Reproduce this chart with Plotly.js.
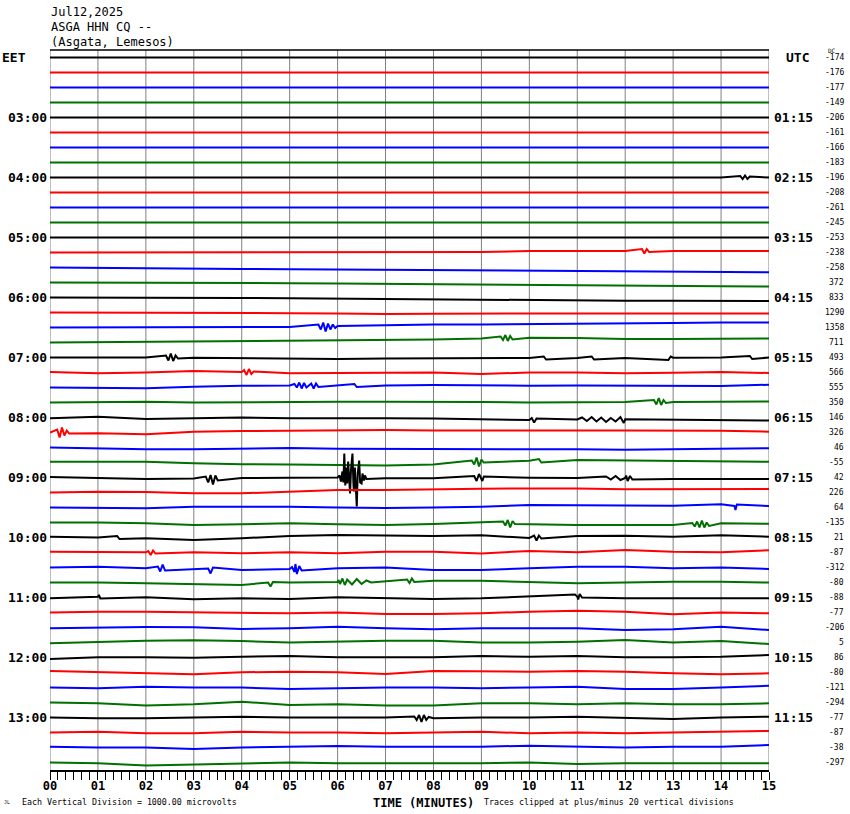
<!DOCTYPE html>
<html>
<head>
<meta charset="utf-8">
<script src="https://cdn.plot.ly/plotly-3.0.1.min.js"></script>
<style>html,body{margin:0;padding:0;background:#fff;}#chart{width:850px;height:814px;}</style>
</head>
<body>
<div id="chart"></div>
<script>
// ---------- DATA ----------
const headerLines = ['Jul12,2025', 'ASGA HHN CQ --', '(Asgata, Lemesos)'];
const minuteTicks = [0,1,2,3,4,5,6,7,8,9,10,11,12,13,14,15];
const minuteLabels = ['00','01','02','03','04','05','06','07','08','09','10','11','12','13','14','15'];
const leftLabels = ['EET','03:00','04:00','05:00','06:00','07:00','08:00','09:00','10:00','11:00','12:00','13:00'];
const rightLabels = ['UTC','01:15','02:15','03:15','04:15','05:15','06:15','07:15','08:15','09:15','10:15','11:15'];
const dcValues = [-174,-176,-177,-149,-206,-161,-166,-183,-196,-208,-261,-245,-253,-238,-258,372,
  833,1290,1358,711,493,566,555,350,146,326,46,-55,42,226,64,-135,
  21,-87,-312,-80,-88,-77,-206,5,86,-80,-121,-294,-77,-87,-38,-297];
const traceColors = ['#000000','#ff0000','#0000ff','#007000'];

// baseline offset of each trace at each whole minute (amplitude unit: 1/15 of trace spacing, + is up)
const Z = [0,0,0,0,0,0,0,0,0,0,0,0,0,0,0,0];
const baseline = [
  Z,Z,Z,Z,Z,Z,Z,Z,Z,Z,Z,Z,Z,
  [0,0,0,0,0,0,0,0,0,0.5,1.5,1.5,1.5,1.5,1.5,1.5],
  [0,-0.5,-1,-1.2,-1.5,-1.7,-2,-2.5,-2.8,-3,-3.2,-3.5,-3.8,-4.2,-4.5,-4.8],
  [0,0,0,-0.2,-0.3,-0.7,-1,-1.4,-1.8,-2.3,-2.8,-3.2,-3.5,-3.6,-3.8,-4],
  [0,0,0,-0.3,-0.5,-0.8,-1.2,-1.8,-2.2,-2.5,-2.8,-3,-3.2,-3.3,-3.4,-3.5],
  [0,0,0,0,-0.3,-0.7,-1,-1.5,-1.2,-1,-1,-1,-1,-1,-1,-1],
  [0,0,0,0,0.3,0.5,1.5,2.5,3,3,3.2,3.5,4,4.5,5,5],
  [0,0.4,0.8,1.2,1.5,1.8,2,2.5,3,4,4.8,4.5,3.5,3.5,3.5,4],
  [0,0,0,-0.2,-0.5,-1,-1.5,-1,-0.8,-0.6,-0.5,-0.5,-0.5,-0.2,0,0],
  [0.5,-0.8,0,1.5,0.5,-0.8,-0.5,-0.8,0,-1.5,0,0,-0.8,-0.3,0.5,-0.5],
  [0,-0.5,-0.8,0.8,1.8,2,2,2,2.5,2,1.8,2,1.8,1.8,1.5,2.8],
  [0,0.5,0.8,0,0.5,0.8,0.8,0.8,0.8,0.5,0,0.3,0.5,0.6,0.8,1],
  [-0.8,0.8,-1.5,-1,0,-0.8,-0.5,-0.8,-1,-2,-2.5,-2,-1.8,-2,-2.5,-3],
  [0,-0.8,-1.8,0.8,1.5,1.8,2,2.5,2,1.8,2,2,2,2.2,1.8,0.8],
  [0,-0.8,-1.8,-1.8,-0.8,-0.5,-1.2,-1.2,-1.2,-1.3,-1.5,-1.8,-2.2,-1.8,-1.5,-0.8],
  [0.8,0.8,0.8,-0.8,-1.8,-2,-2.5,-3,-2,1.5,1.8,2.5,2.2,1.5,1.5,0.8],
  [0.5,-0.5,-1.5,-1,-0.5,-0.3,0,-0.8,-0.8,-0.5,-0.2,-0.5,-0.5,-1.5,-1.5,-1.5],
  [0,0.8,0.5,-0.8,-0.8,1,2.5,2.5,3.5,3.8,4,4,3.2,3.5,3.2,3.5],
  [0,-0.3,-0.8,0.8,0.8,0.8,0,-0.5,0,0.8,2.5,2.5,1.8,1.8,3.2,1.5],
  [0,0,-0.8,-2.5,-1.8,-0.8,-1.8,-2.5,-1.5,0,-1.8,-2.5,-2.5,-2.5,-0.8,-1.2],
  [0.8,0,-0.8,-2.5,-0.8,1.5,2.5,1.8,1.5,2.2,-0.5,1.5,1.8,0.8,2.2,0.8],
  [0.8,0.2,0.2,0.2,-0.8,0.2,-0.8,0.8,0.8,-1,1.5,0.2,2.5,0.8,0.2,2.2],
  [0,0.8,-0.8,-1.8,-2.5,-1.5,-0.8,0,-2.5,-2.5,-0.8,0.8,0.8,-0.8,0,-1.5],
  [0,0,-0.8,-1.5,-2.5,0,0.5,1.5,1.8,1.8,0.8,-0.8,0,0.8,0.8,0],
  [-0.8,0.8,0.2,-1.8,-0.8,-1.5,0.2,-0.8,-1.5,-0.8,0.8,1,-0.8,-0.8,-0.2,-0.8],
  [0,0.8,0.8,0.2,0.2,-0.8,0,-1.5,-1.5,-0.8,0.8,1.8,0.8,-1.8,0,-0.8],
  [-0.8,0.2,0.5,0.2,-1.5,-0.8,0.8,-0.8,-1.8,-0.8,-0.8,-0.8,-2.5,-1.8,0.8,-2.5],
  [-0.8,0.8,1.8,2.2,1.5,0,0.8,1.8,1.8,0,0,0.8,2.5,0,1.5,-1.5],
  [-1.5,0.2,0.2,-0.2,0.8,1.5,0.2,0.2,0.2,1.5,0.8,1.5,0.2,0.2,0.8,2.5],
  [1.5,0.2,-0.8,-1.8,0.2,0.8,0.2,-1.5,1.5,0.8,0.8,1.5,0.8,-0.8,-1.8,-0.8],
  [0,-0.8,0.8,0,0,-1.5,-0.8,0,0,-0.8,0,0.8,-1.5,-1.5,0,1.8],
  [0,-0.8,-3,-1.8,0.8,-2.5,-1.8,-3,-3,-0.8,-0.8,-1.8,-0.8,-1.8,-1.8,-0.8],
  [0,-0.8,-0.8,0,0.8,0,0,0,-0.8,0,0,0.8,0,-1.5,0,0.8],
  [0,0.8,-0.8,-0.8,0.8,0,0,-0.8,0,0.8,-0.8,0,-0.8,0,0.8,1.5],
  [0.8,0,0,-1.5,0,0.8,1.5,0.8,0.8,0.8,1.8,0.8,0,0.8,0.8,2.5],
  [0,-0.8,-3,-1.8,-0.8,0,-0.8,-0.8,-0.8,-0.8,0,-1.5,-0.8,-0.8,-0.8,-0.8]
];

// seismic events: trace index, times (minutes), amplitudes (same unit, relative to trace centre)
const evTrace = [8,13,18,19,20,20,20,20,20,21,22,22,23,24,24,25,27,27,28,28,28,28,30,31,31,32,32,33,34,34,34,35,35,35,36,36,44];
const evTimes = [
  [14.40,14.45,14.50,14.55,14.60],
  [12.35,12.40,12.45,12.50],
  [5.60,5.65,5.70,5.75,5.80,5.85,5.90,5.95],
  [9.40,9.45,9.50,9.55,9.60,9.65],
  [2.42,2.47,2.52,2.57,2.62,2.67],
  [10.30,10.35],
  [11.30,11.35],
  [12.90,12.95],
  [14.60,14.65],
  [4.05,4.10,4.15,4.20,4.25],
  [5.10,5.15,5.20,5.25,5.30,5.35,5.45,5.50,5.55,5.60],
  [6.35,6.40],
  [12.60,12.65,12.70,12.75,12.80,12.85],
  [10.05,10.10,10.15],
  [11.10,11.20,11.30,11.40,11.50,11.60,11.70,11.80,11.90,11.97],
  [0.15,0.20,0.25,0.30,0.35,0.40],
  [8.80,8.85,8.90,8.95,9.00,9.05],
  [10.20,10.25],
  [3.25,3.30,3.35,3.40,3.45,3.50],
  [6.04,6.07,6.10,6.12,6.14,6.16,6.18,6.20,6.22,6.24,6.26,6.28,6.31,6.33,6.34,6.36,6.38,6.40,6.42,6.45,6.47,6.50,6.52,6.55,6.57,6.60],
  [8.85,8.90,8.95,9.02,9.05],
  [11.60,11.70,11.80,11.90,12.02,12.05,12.10,12.15],
  [14.28,14.30,14.33],
  [9.45,9.50,9.55,9.60,9.65,9.70],
  [13.40,13.45,13.50,13.55,13.60,13.65,13.70,13.75],
  [10.10,10.15,10.20,10.25],
  [1.40,1.45],
  [2.05,2.10,2.15,2.20],
  [2.25,2.30,2.35,2.40],
  [3.30,3.35,3.40],
  [5.05,5.10,5.12,5.15,5.20,5.25],
  [4.55,4.60,4.65],
  [6.02,6.05,6.10,6.15,6.20,6.30,6.40,6.50,6.60,6.70],
  [7.45,7.50,7.55,7.60],
  [10.95,11.02,11.05,11.10],
  [1.02,1.05],
  [7.60,7.65,7.70,7.75,7.80,7.85,7.90]
];
const evAmps = [
  [1.5,-1.5,2,-1.5,1],
  [3.5,-1,3.5,0.5],
  [3,-2,5,-4,4,-2,3,-0.5],
  [6,2.5,7.5,1.5,6.5,3],
  [2,-3,4,-3.5,2,-1],
  [1,-2],
  [1,-2],
  [-2.5,1],
  [1.5,-1.5],
  [2.5,-2.5,3.5,-1.5,1],
  [3.5,0,5,-1,4.5,0,4,-1,4,0.5],
  [3.5,0.5],
  [2.5,-2,4.5,-2.5,2.5,-0.5],
  [-0.5,-5,-1],
  [0,-3.5,0.5,-4,0,-4.5,-0.5,-4,0.5,-5.5],
  [3,-5,5,-3,2,-1],
  [2,-2,5,-4,3,0],
  [3.5,0],
  [1,-5,2.5,-7,2,-3],
  [2,-4,6,-5,24,-8,10,-6,16,-10,-16,8,24,-6,-14,10,-12,-29,4,17,-5,-6,4,-3,2,-1.5],
  [1.5,-3.5,3.5,-3.5,1],
  [1,-2,1.5,-2.5,2,-3.5,1.5,-2],
  [1.5,-2.5,3],
  [1,-3,2.5,-5,1.5,-1.5],
  [-0.5,-4,1,-5,2,-5,0,-3.5],
  [2,-3,2,-1],
  [1.5,-1.5],
  [1.5,-2.5,2,-1],
  [1,-4,3,-3],
  [-1,-6,0],
  [0.5,-4.5,3.5,-6.5,1.5,-3],
  [0,-4,0.5],
  [2.5,-1.5,4,-2.5,3,-2,3.5,-1.5,2,0],
  [3,-0.5,4,0.5],
  [3,-2,3.5,0],
  [2.5,-1],
  [1,-2.5,2.5,-4.5,2.5,-2.5,0.5]
];

// ---------- BUILD ----------
const NT = baseline.length;      // 48 traces
const UNIT = 15;                 // amplitude units per trace spacing
const mono = 'DejaVu Sans Mono, Liberation Mono, monospace';
const traces = [];
for (let i = 0; i < NT; i++) {
  const pts = minuteTicks.map((m, k) => [m, baseline[i][k]]);
  evTrace.forEach((t, e) => {
    if (t === i) evTimes[e].forEach((x, j) => pts.push([x, evAmps[e][j]]));
  });
  pts.sort((a, b) => a[0] - b[0]);
  const centre = (NT - 0.5) - i;
  traces.push({
    type: 'scatter', mode: 'lines',
    x: pts.map(p => p[0]),
    y: pts.map(p => centre + p[1] / UNIT),
    line: {color: traceColors[i % 4], width: 2},
    hoverinfo: 'skip', showlegend: false
  });
}

const ann = [];
const PX = px => (px - 50) / 719;          // pixel -> paper x
const PY = py => (770 - py) / 720;         // pixel -> paper y
headerLines.forEach((t, k) => ann.push({
  text: t, xref: 'paper', yref: 'paper', x: PX(49), y: PY(12 + 15 * k),
  xanchor: 'left', yanchor: 'middle', showarrow: false,
  font: {family: mono, size: 12, color: '#000'}
}));
leftLabels.forEach((t, k) => {
  const yc = (NT - 0.5) - 4 * k;
  ann.push({text: t, xref: 'paper', yref: 'y', x: k === 0 ? PX(0) : PX(49), y: yc,
    xanchor: k === 0 ? 'left' : 'right', yanchor: 'middle', showarrow: false,
    font: {family: mono, size: 13, color: '#000', weight: 'bold'}});
});
rightLabels.forEach((t, k) => {
  const yc = (NT - 0.5) - 4 * k;
  ann.push({text: t, xref: 'paper', yref: 'y', x: k === 0 ? PX(784) : PX(772), y: yc,
    xanchor: 'left', yanchor: 'middle', showarrow: false,
    font: {family: mono, size: 13, color: '#000', weight: 'bold'}});
});
dcValues.forEach((v, i) => ann.push({
  text: String(v), xref: 'paper', yref: 'y', x: PX(846), y: (NT - 0.5) - i,
  xanchor: 'right', yanchor: 'middle', showarrow: false,
  font: {family: mono, size: 8, color: '#000'}
}));
ann.push({text: 'DC', xref: 'paper', yref: 'paper', x: PX(826), y: PY(50),
  xanchor: 'left', yanchor: 'middle', showarrow: false, font: {family: mono, size: 6, color: '#000'}});
ann.push({text: 'TIME (MINUTES)', xref: 'paper', yref: 'paper', x: PX(423), y: PY(803),
  xanchor: 'center', yanchor: 'middle', showarrow: false,
  font: {family: mono, size: 12, color: '#000', weight: 'bold'}});
ann.push({text: 'Each Vertical Division = 1000.00 microvolts', xref: 'paper', yref: 'paper', x: PX(20), y: PY(802),
  xanchor: 'left', yanchor: 'middle', showarrow: false, font: {family: mono, size: 8.3, color: '#000'}});
ann.push({text: 'Traces clipped at plus/minus 20 vertical divisions', xref: 'paper', yref: 'paper', x: PX(482), y: PY(802),
  xanchor: 'left', yanchor: 'middle', showarrow: false, font: {family: mono, size: 8.3, color: '#000'}});
ann.push({text: 'JL', xref: 'paper', yref: 'paper', x: PX(2), y: PY(802),
  xanchor: 'left', yanchor: 'middle', showarrow: false, font: {family: mono, size: 5, color: '#000'}});

// vertical minute lines follow the tick array
const shapes = minuteTicks.map(m => ({type: 'line', xref: 'x', yref: 'paper', x0: m, x1: m, y0: 0, y1: 1,
  line: {color: '#808080', width: 1}, layer: 'below'}));
shapes.push({type: 'line', xref: 'paper', yref: 'paper', x0: 0, x1: 1, y0: 1, y1: 1, line: {color: '#000', width: 1.5}});

const layout = {
  width: 850, height: 814,
  margin: {l: 50, r: 81, t: 50, b: 44, pad: 0},
  paper_bgcolor: '#fff', plot_bgcolor: '#fff',
  showlegend: false,
  xaxis: {
    range: [0, 15], fixedrange: true,
    tickmode: 'array', tickvals: minuteTicks, ticktext: minuteLabels,
    ticks: 'outside', ticklen: 8, tickwidth: 1, tickcolor: '#000',
    ticklabelstandoff: -4,
    tickfont: {family: mono, size: 12, color: '#000', weight: 'bold'},
    showgrid: false,
    showline: true, linecolor: '#000', linewidth: 1.5,
    zeroline: false,
    minor: {tickmode: 'linear', tick0: 0, dtick: 1/6, ticks: 'outside', ticklen: 8, tickcolor: '#000', tickwidth: 1, showgrid: false}
  },
  yaxis: {
    range: [0, NT], fixedrange: true,
    showgrid: false, zeroline: false, showticklabels: false, ticks: '', showline: false
  },
  shapes: shapes,
  annotations: ann
};

Plotly.newPlot('chart', traces, layout, {displayModeBar: false, staticPlot: true});
</script>
</body>
</html>
